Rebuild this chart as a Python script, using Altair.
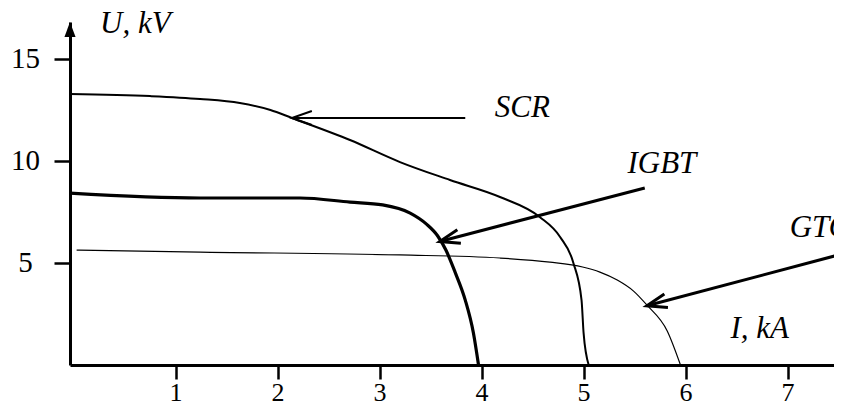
import math
import altair as alt
import pandas as pd

# ---- data (I in kA, U in kV) ----
scr_I = [-0.035, 0.75, 1.24, 1.63, 1.93, 2.14, 2.71, 3.20, 3.69, 4.18, 4.57, 4.77, 4.90, 4.98, 5.00, 5.05]
scr_U = [13.27, 13.17, 13.03, 12.83, 12.49, 12.10, 11.02, 9.94, 9.06, 8.23, 7.25, 6.27, 5.00, 3.18, 1.57, 0.0]

igbt_I = [-0.035, 1.24, 2.22, 2.71, 3.03, 3.30, 3.46, 3.57, 3.65, 3.74, 3.84, 3.92, 3.97]
igbt_U = [8.42, 8.18, 8.18, 7.98, 7.84, 7.44, 6.90, 6.32, 5.63, 4.55, 3.18, 1.57, 0.0]

gto_I = [0.03, 1.24, 3.20, 4.18, 4.67, 4.99, 5.16, 5.33, 5.49, 5.62, 5.82, 5.95]
gto_U = [5.63, 5.53, 5.39, 5.24, 5.04, 4.80, 4.55, 4.16, 3.62, 2.94, 1.67, 0.0]

x_ticks = [1, 2, 3, 4, 5, 6, 7]
y_ticks = [5, 10, 15]

# annotation arrows: tail -> tip
arrow_names = ["SCR", "IGBT", "GTO"]
arrow_tail_I = [3.84, 5.60, 7.61]
arrow_tail_U = [12.10, 8.67, 5.54]
arrow_tip_I = [2.14, 3.59, 5.62]
arrow_tip_U = [12.10, 6.05, 2.90]
arrow_width = [2.0, 3.0, 3.0]

# annotation texts
ann_text = ["U, kV", "SCR", "IGBT", "GTO", "I, kA"]
ann_I = [0.26, 4.13, 5.43, 7.02, 6.44]
ann_U = [16.26, 12.14, 9.40, 6.27, 1.32]

# ---- layout ----
W, H = 764, 343
X_DOMAIN = [-0.035, 7.455]
Y_DOMAIN = [0, 16.8]
px_I = W / (X_DOMAIN[1] - X_DOMAIN[0])
px_U = H / (Y_DOMAIN[1] - Y_DOMAIN[0])

xs = alt.Scale(domain=X_DOMAIN, nice=False, zero=False)
ys = alt.Scale(domain=Y_DOMAIN, nice=False, zero=False)
FONT = "Liberation Serif"

x_axis = alt.Axis(values=x_ticks, format="d", title=None, grid=False, domainColor="black",
                  domainWidth=3, tickColor="black", tickWidth=2.5, tickSize=14,
                  labelFont=FONT, labelFontSize=26, labelColor="black",
                  labelPadding=0, labelFlush=False)
y_axis = alt.Axis(values=y_ticks, format="d", title=None, grid=False, domainColor="black",
                  domainWidth=3, tickColor="black", tickWidth=2.5, tickSize=16,
                  labelFont=FONT, labelFontSize=29, labelColor="black",
                  labelAlign="center", labelPadding=29)

def curve(I, U, w):
    df = pd.DataFrame({"I": I, "U": U})
    return alt.Chart(df).mark_line(color="black", strokeWidth=w, interpolate="monotone").encode(
        x=alt.X("I:Q", scale=xs, axis=x_axis),
        y=alt.Y("U:Q", scale=ys, axis=y_axis),
    )

scr = curve(scr_I, scr_U, 2.0)
igbt = curve(igbt_I, igbt_U, 3.2)
gto = curve(gto_I, gto_U, 1.2)

adf = pd.DataFrame({
    "name": arrow_names,
    "x1": arrow_tail_I, "y1": arrow_tail_U,
    "x2": arrow_tip_I, "y2": arrow_tip_U,
    "w": arrow_width,
})
adf["angle"] = [
    math.degrees(math.atan2(-(a - b) * px_U, (c - d) * px_I)) % 360
    for a, b, c, d in zip(adf["y1"], adf["y2"], adf["x1"], adf["x2"])
]

arrow_lines = alt.Chart(adf).mark_rule(color="black").encode(
    x=alt.X("x1:Q", scale=xs), y=alt.Y("y1:Q", scale=ys),
    x2="x2:Q", y2="y2:Q",
    strokeWidth=alt.StrokeWidth("w:Q", scale=None),
)
arrow_heads = alt.Chart(adf).mark_point(
    shape="M 1 -0.35 L 0 0 L 1 0.35", size=1600, filled=False,
    color="black", opacity=1,
).encode(
    x=alt.X("x2:Q", scale=xs), y=alt.Y("y2:Q", scale=ys),
    angle=alt.Angle("angle:Q", scale=None),
    strokeWidth=alt.StrokeWidth("w:Q", scale=None),
)

# axis arrowheads (at ends of the axes)
axis_end = pd.DataFrame({"I": [X_DOMAIN[0], 7.61], "U": [Y_DOMAIN[1], 0.0], "angle": [0, 90]})
axis_heads = alt.Chart(axis_end).mark_point(
    shape="M 0 0 L -0.37 1 L 0.37 1 Z", size=900, filled=True,
    color="black", opacity=1, strokeWidth=0,
).encode(
    x=alt.X("I:Q", scale=xs), y=alt.Y("U:Q", scale=ys),
    angle=alt.Angle("angle:Q", scale=None),
)

tdf = pd.DataFrame({"t": ann_text, "I": ann_I, "U": ann_U})
texts = alt.Chart(tdf).mark_text(
    font=FONT, fontSize=31, fontStyle="italic", color="black",
    align="left", baseline="alphabetic",
).encode(
    x=alt.X("I:Q", scale=xs), y=alt.Y("U:Q", scale=ys), text="t:N",
)

chart = alt.layer(scr, igbt, gto, arrow_lines, arrow_heads, axis_heads, texts).properties(
    width=W, height=H,
    padding={"left": 62, "top": 14, "right": 0, "bottom": 39},
    autosize=alt.AutoSizeParams(type="none"),
).configure_view(stroke=None)

chart.save("out.html", embed_options={"renderer": "svg", "actions": False})
